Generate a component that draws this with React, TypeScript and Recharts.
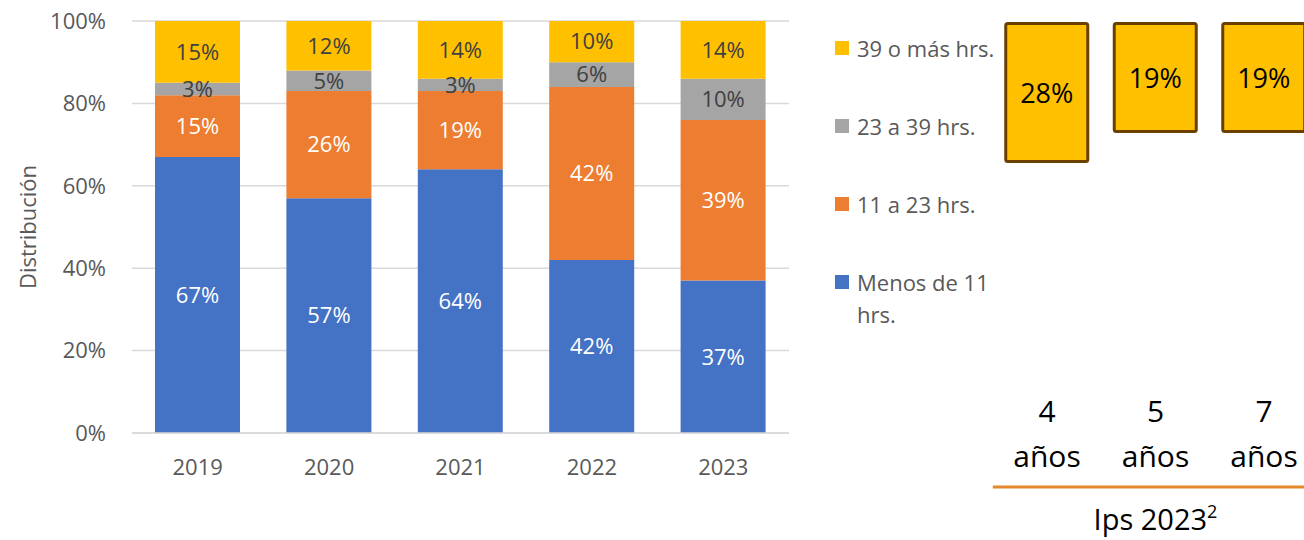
import React from 'react';
import { BarChart, Bar, XAxis, YAxis, CartesianGrid, LabelList, Legend } from 'recharts';

// ---------- data ----------
const years = ['2019', '2020', '2021', '2022', '2023'];
const menos11 = [67, 57, 64, 42, 37];
const de11a23 = [15, 26, 19, 42, 39];
const de23a39 = [3, 5, 3, 6, 10];
const mas39 = [15, 12, 14, 10, 14];
const yTicks = [0, 20, 40, 60, 80, 100];

const ageLabels = ['4 años', '5 años', '7 años'];
const ipsValues = [28, 19, 19];
const ipsTitle = 'Ips 2023';
const ipsSup = '2';

// ---------- styling ----------
const FONT = '"Open Sans", "Noto Sans", sans-serif';
const AXIS_GRAY = '#595959';

const series = [
  { key: 'menos11', name: 'Menos de 11 hrs.', color: '#4472C4', label: '#FFFFFF' },
  { key: 'de11a23', name: '11 a 23 hrs.', color: '#ED7D31', label: '#FFFFFF' },
  { key: 'de23a39', name: '23 a 39 hrs.', color: '#A5A5A5', label: '#404040' },
  { key: 'mas39', name: '39 o más hrs.', color: '#FFC000', label: '#404040' },
];

const data = years.map((y, i) => ({
  year: y,
  menos11: menos11[i],
  de11a23: de11a23[i],
  de23a39: de23a39[i],
  mas39: mas39[i],
}));

const ipsData = ageLabels.map((a, i) => ({ age: a, ips: ipsValues[i] }));

const RIGHT_TOP = 23.5;

const LegendContent = () => (
  <div style={{ fontFamily: FONT, fontSize: 22, color: AXIS_GRAY }}>
    {[...series].reverse().map((s) => (
      <div key={s.key} style={{ display: 'flex', alignItems: 'flex-start', height: 78 }}>
        <div
          style={{ width: 14, height: 14, background: s.color, marginTop: 9, marginRight: 8, flex: 'none' }}
        />
        <div style={{ lineHeight: '32px', width: 148 }}>{s.name}</div>
      </div>
    ))}
  </div>
);

const YTitle = (props: any) => {
  const vb = props.viewBox || { x: 0, y: 21, width: 132, height: 412 };
  const cx = vb.x + 27;
  const cy = vb.y + vb.height / 2;
  return (
    <text
      x={cx}
      y={cy}
      transform={`rotate(-90, ${cx}, ${cy})`}
      textAnchor="middle"
      dominantBaseline="central"
      fill={AXIS_GRAY}
      fontSize={22}
      fontFamily={FONT}
    >
      Distribución
    </text>
  );
};

const BoxShape = (props: any) => {
  const { x, y, width, height, background } = props;
  const top = background && typeof background.y === 'number' ? background.y : RIGHT_TOP;
  const bottom = Math.max(y, y + height);
  return (
    <rect
      x={x}
      y={top}
      width={width}
      height={bottom - top}
      fill="#FFC000"
      stroke="#6B3F00"
      strokeWidth={3}
      rx={2}
      ry={2}
    />
  );
};

const BoxLabel = (props: any) => {
  const vb = props.viewBox || props;
  const x = vb.x;
  const y = vb.y;
  const width = vb.width;
  const height = vb.height;
  const bottom = Math.max(y, y + height);
  const cy = (RIGHT_TOP + bottom) / 2;
  return (
    <text
      x={x + width / 2}
      y={cy}
      textAnchor="middle"
      dominantBaseline="central"
      fill="#000000"
      fontSize={27}
      fontFamily={FONT}
    >
      {`${props.value}%`}
    </text>
  );
};

const AgeTick = (props: any) => {
  const { x, y, payload } = props;
  const parts = String(payload.value).split(' ');
  return (
    <g>
      <text x={x} y={y - 65} textAnchor="middle" fill="#000000" fontSize={30} fontFamily={FONT}>
        {parts[0]}
      </text>
      <text x={x} y={y - 20} textAnchor="middle" fill="#000000" fontSize={30} fontFamily={FONT}>
        {parts[1]}
      </text>
    </g>
  );
};

const IpsTitle = (props: any) => {
  const vb = props.viewBox || { x: 12.75, y: 487, width: 325.5, height: 53 };
  const cx = vb.x + vb.width / 2;
  return (
    <text x={cx} y={vb.y + 43} textAnchor="middle" fill="#000000" fontSize={29} fontFamily={FONT}>
      {ipsTitle}
      <tspan fontSize={18} dy={-12}>
        {ipsSup}
      </tspan>
    </text>
  );
};

export default function App() {
  return (
    <div
      style={{
        position: 'fixed',
        left: 0,
        top: 0,
        width: 1304,
        height: 540,
        overflow: 'hidden',
        background: '#ffffff',
      }}
    >
      <div style={{ position: 'absolute', left: 0, top: 0 }}>
        <BarChart
          width={1000}
          height={540}
          data={data}
          margin={{ top: 21, right: 41, bottom: 0, left: 0 }}
        >
          <CartesianGrid vertical={false} stroke="#D9D9D9" strokeWidth={1.5} />
          <XAxis
            dataKey="year"
            height={107}
            tickLine={false}
            tickSize={0}
            tickMargin={26}
            axisLine={{ stroke: '#D9D9D9', strokeWidth: 1.5 }}
            tick={{ fill: AXIS_GRAY, fontSize: 22, fontFamily: FONT }}
          />
          <YAxis
            width={132}
            domain={[0, 100]}
            ticks={yTicks}
            tickFormatter={(v: number) => `${v}%`}
            axisLine={false}
            tickLine={false}
            tickSize={0}
            tickMargin={26}
            tick={{ fill: AXIS_GRAY, fontSize: 22, fontFamily: FONT }}
            label={{ content: YTitle }}
          />
          <Legend
            layout="vertical"
            align="right"
            verticalAlign="top"
            content={LegendContent}
            wrapperStyle={{ left: 835, top: 32, width: 170, right: 'auto' }}
          />
          {series.map((s) => (
            <Bar
              key={s.key}
              dataKey={s.key}
              name={s.name}
              stackId="a"
              fill={s.color}
              barSize={85}
              isAnimationActive={false}
            >
              <LabelList
                dataKey={s.key}
                position="center"
                formatter={(v: any) => `${v}%`}
                fill={s.label}
                fontSize={22}
                fontFamily={FONT}
              />
            </Bar>
          ))}
        </BarChart>
      </div>
      <div style={{ position: 'absolute', left: 980, top: 0 }}>
        <BarChart
          width={360}
          height={540}
          data={ipsData}
          margin={{ top: RIGHT_TOP, right: 21.75, bottom: 0, left: 12.75 }}
        >
          <XAxis
            dataKey="age"
            height={53}
            tickLine={false}
            tickSize={0}
            tickMargin={0}
            axisLine={{ stroke: '#E5892B', strokeWidth: 3 }}
            tick={<AgeTick />}
            label={{ content: IpsTitle }}
            interval={0}
          />
          <YAxis hide reversed domain={[-13.4, 125.6]} />
          <Bar dataKey="ips" barSize={82} shape={<BoxShape />} isAnimationActive={false}>
            <LabelList dataKey="ips" content={<BoxLabel />} />
          </Bar>
        </BarChart>
      </div>
    </div>
  );
}
